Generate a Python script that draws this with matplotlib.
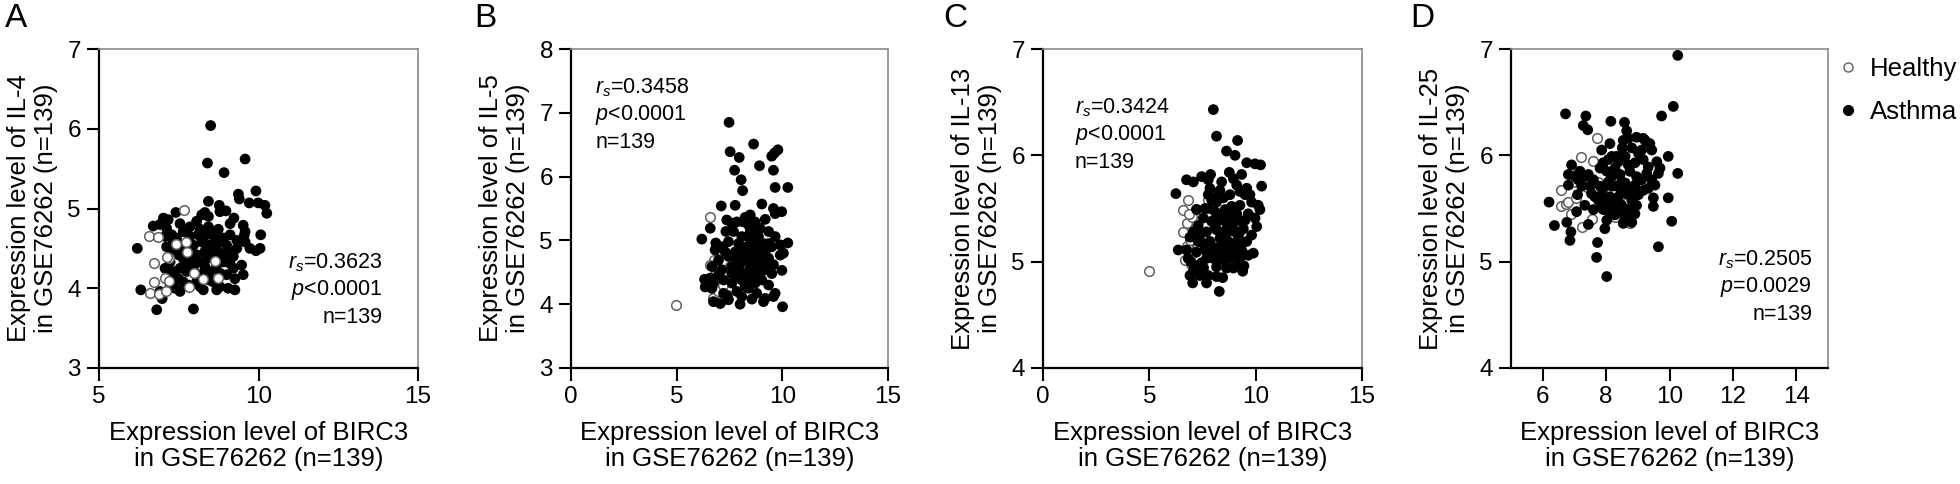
import matplotlib
matplotlib.use('Agg')
import matplotlib.pyplot as plt
from matplotlib.lines import Line2D

plt.rcParams['font.family'] = ['Liberation Sans', 'DejaVu Sans']
plt.rcParams['mathtext.fontset'] = 'custom'
plt.rcParams['mathtext.rm'] = 'Liberation Sans'
plt.rcParams['mathtext.it'] = 'Liberation Sans:italic'

# ---------------- data ----------------
a_asthma_x = [8.50,8.40,9.58,8.92,9.92,9.37,9.40,9.71,9.99,10.20,
              10.26,8.43,8.77,8.98,9.23,8.32,8.22,7.41,7.02,6.70,
              6.91,6.20,7.12,7.28,7.85,8.17,8.43,8.74,9.11,9.52,
              9.55,9.58,10.07,10.05,9.92,9.32,9.21,9.47,9.52,9.00,
              8.79,8.48,8.22,7.96,7.59,7.33,7.12,7.49,7.75,8.06,
              8.37,8.69,8.90,7.54,7.75,7.96,8.27,8.48,7.64,8.06,
              8.48,9.00,9.21,8.79,9.05,9.26,7.38,6.91,6.31,6.98,
              6.81,7.96,8.27,8.69,7.07,7.23,7.33,7.85,8.64,9.11,
              9.32,7.64,8.37,8.79,8.17,7.80,7.23,7.54,8.11,8.43,
              8.79,7.28,7.70,8.32,8.58,8.90,9.05,8.58,8.01,8.32,
              7.23,7.49,9.26,8.06,7.54,7.07,9.73,8.37,8.69,7.80,
              8.58,8.17,9.58,7.64,9.00,7.43,7.17,7.90,9.11]
a_asthma_y = [6.04,5.57,5.62,5.45,5.22,5.18,5.12,5.07,5.07,5.04,
              4.94,5.09,5.04,4.97,4.88,4.95,4.92,4.95,4.88,4.78,
              4.80,4.50,4.75,4.67,4.77,4.74,4.77,4.74,4.81,4.79,
              4.66,4.58,4.67,4.50,4.47,4.50,4.40,4.29,4.17,4.54,
              4.44,4.54,4.58,4.54,4.54,4.58,4.52,4.42,4.37,4.42,
              4.37,4.29,4.33,4.25,4.21,4.25,4.19,4.21,4.08,4.08,
              4.10,4.17,4.25,4.02,4.00,3.98,4.00,3.96,3.98,3.87,
              3.73,3.74,3.98,3.98,4.25,4.33,4.21,4.65,4.63,4.67,
              4.60,4.71,4.67,4.19,4.33,4.04,4.04,3.96,4.67,4.90,
              4.96,4.46,4.50,4.46,4.44,4.63,4.46,4.71,4.33,4.27,
              4.15,4.12,4.12,4.84,4.81,4.65,4.50,4.54,4.54,4.29,
              4.08,4.02,4.71,4.37,4.37,4.63,4.86,4.44,4.31]
a_healthy_x = [7.66,6.57,6.84,6.73,7.20,7.72,7.75,8.64,8.73,7.98,
               8.27,6.73,7.07,7.19,6.60,6.88,7.10,7.82,7.13,7.40]
a_healthy_y = [4.98,4.66,4.64,4.32,4.38,4.58,4.45,4.34,4.13,4.19,
               4.12,4.08,4.13,4.09,3.94,3.93,3.97,4.02,4.39,4.55]

b_asthma_x = [7.48,8.64,7.53,7.96,9.63,9.79,9.50,8.92,7.74,9.58,
              8.05,8.12,9.66,10.26,7.77,7.11,9.03,9.58,9.97,6.19,
              6.59,7.33,7.61,7.85,8.24,8.71,9.19,9.35,9.66,10.26,
              10.05,9.90,9.98,6.85,6.82,7.14,7.45,8.08,8.48,8.87,
              9.11,9.50,6.98,6.67,7.45,7.77,8.32,8.64,8.95,9.35,
              9.58,7.14,7.61,8.00,8.40,8.79,9.19,6.32,6.74,7.22,
              7.77,8.24,8.56,9.03,9.35,9.66,6.67,7.22,7.85,8.40,
              8.79,9.19,6.74,7.06,8.00,8.56,9.11,10.01,8.24,8.48,
              8.08,8.71,8.24,8.48,8.95,8.08,7.61,9.50,8.71,7.37,
              8.08,6.59,8.40,8.95,9.35,8.64,7.93,7.69,8.48,8.16,
              7.30,7.61,6.98,8.40,8.87,9.19,8.00,7.85,8.79,8.32,
              9.19,7.45,9.58,6.35,9.90,7.37,9.66,8.64,7.85]
b_asthma_y = [6.85,6.51,6.39,6.30,6.37,6.42,6.32,6.17,6.10,6.10,
              5.95,5.78,5.83,5.83,5.55,5.54,5.57,5.50,5.45,5.02,
              5.19,5.14,5.27,5.29,5.36,5.29,5.33,5.14,5.06,4.96,
              4.80,4.77,4.53,4.96,4.85,4.90,4.98,5.06,5.14,5.06,
              4.95,4.90,4.69,4.59,4.75,4.82,4.90,4.82,4.75,4.72,
              4.62,4.54,4.59,4.62,4.69,4.59,4.54,4.39,4.34,4.38,
              4.43,4.48,4.41,4.38,4.30,4.17,4.25,4.17,4.20,4.25,
              4.17,4.09,4.04,4.01,4.00,4.08,4.04,3.96,4.28,5.01,
              4.85,4.69,4.69,4.56,4.48,4.38,4.33,4.48,4.33,4.14,
              4.12,4.41,5.24,5.19,4.95,4.95,4.95,5.14,5.40,5.29,
              4.82,4.48,4.46,4.82,4.88,4.82,4.75,4.54,4.48,4.38,
              4.64,4.07,4.12,4.27,4.93,5.32,5.42,5.19,4.69]
b_healthy_x = [6.59,4.98,6.75,6.65,6.70,7.00,7.80,6.90,7.10,6.80,
               7.30,6.95,7.50,7.20,6.85,7.60,6.60,7.40,8.10,7.05]
b_healthy_y = [5.36,3.99,4.70,4.25,4.10,4.55,4.72,4.35,4.05,4.45,
               4.80,4.20,4.60,4.30,4.90,4.40,4.62,4.15,4.75,4.85]

c_asthma_x = [8.01,8.16,9.15,8.63,9.03,9.58,9.97,10.23,10.28,6.75,
              7.07,7.46,7.88,8.76,9.34,8.40,6.25,7.85,7.77,9.11,
              9.50,9.81,10.12,10.20,10.05,9.89,7.22,7.54,7.07,7.30,
              6.36,6.83,7.07,7.46,6.91,7.04,7.77,8.29,8.16,8.48,
              8.79,9.26,9.58,8.09,8.56,8.87,9.26,9.65,7.93,8.32,
              8.79,9.18,9.42,9.81,7.69,8.16,8.63,9.03,7.85,8.32,
              8.71,9.26,9.58,7.62,8.09,8.48,8.95,9.34,8.01,8.40,
              8.79,9.26,9.65,7.54,8.16,8.63,9.18,9.39,7.69,7.38,
              6.75,7.38,7.62,8.32,8.95,9.97,9.73,6.91,7.30,7.77,
              7.93,8.56,8.40,9.03,7.93,7.22,7.69,8.71,9.11,9.50,
              8.16,7.07,8.95,8.56,8.24,8.71,9.11,8.09,8.95,8.48,
              9.26,7.54,8.16,8.63,7.77,8.24,9.45,6.95,8.45]
c_asthma_y = [6.43,6.18,6.14,6.04,6.00,5.93,5.92,5.91,5.71,5.77,
              5.75,5.80,5.82,5.84,5.82,5.75,5.64,5.69,5.63,5.72,
              5.63,5.56,5.53,5.49,5.33,5.08,5.49,5.41,5.28,5.19,
              5.11,5.03,4.97,4.99,4.87,4.80,4.87,4.72,5.56,5.60,
              5.63,5.66,5.69,5.47,5.49,5.52,5.53,5.45,5.38,5.39,
              5.41,5.39,5.31,5.25,5.28,5.30,5.31,5.28,5.19,5.22,
              5.19,5.20,5.19,5.11,5.13,5.09,5.13,5.11,5.03,5.02,
              5.03,5.03,5.06,4.94,4.95,4.94,4.97,4.91,4.80,4.87,
              5.11,5.25,5.50,5.67,5.78,5.41,5.63,5.23,5.34,5.50,
              5.58,5.39,5.16,5.06,5.09,5.09,5.03,5.28,5.19,5.39,
              4.86,4.91,4.94,5.02,5.44,5.45,5.45,5.33,5.36,5.25,
              5.28,5.17,5.06,5.11,5.77,5.63,4.96,5.00,4.85]
c_healthy_x = [5.00,6.83,6.60,6.76,6.60,7.77,7.07,6.76,7.38,8.24,
               7.20,6.90,7.00,6.70,7.50,6.95,7.15,8.00,7.30,6.85]
c_healthy_y = [4.91,5.58,5.49,5.36,5.28,5.58,5.08,5.15,4.89,5.13,
               5.50,5.20,5.42,5.02,4.95,4.98,5.30,5.05,5.15,5.45]

d_asthma_x = [10.26,10.12,9.75,6.72,7.36,7.28,7.42,8.15,8.58,8.65,
              8.70,8.96,9.17,9.38,9.44,9.96,10.26,8.12,7.86,8.51,
              8.81,9.02,8.18,8.60,9.17,9.60,9.70,9.65,6.91,7.18,
              7.02,6.81,7.44,7.60,7.91,8.02,8.28,8.44,8.75,8.96,
              9.28,9.44,9.54,9.33,8.91,8.60,8.33,8.07,7.81,7.49,
              7.10,6.20,7.86,8.12,8.39,8.70,9.02,9.49,9.96,7.33,
              7.07,7.60,7.91,8.18,8.49,8.75,8.96,9.49,8.28,8.60,
              8.54,8.81,8.02,7.44,10.07,6.37,6.76,6.89,6.86,7.96,
              7.73,7.70,8.02,9.65,8.18,8.49,8.81,9.12,8.39,8.07,
              8.70,8.91,9.12,7.75,7.23,7.33,6.81,7.65,8.28,8.60,
              8.91,9.17,8.18,8.49,8.70,7.91,8.02,8.44,9.33,8.54,
              9.23,7.12,7.54,7.86,8.75,8.12,9.02,8.33,7.81]
d_asthma_y = [6.94,6.46,6.37,6.39,6.37,6.28,6.24,6.32,6.31,6.23,
              6.16,6.17,6.16,6.11,6.05,5.99,5.83,6.11,6.05,6.07,
              6.07,6.02,5.99,5.99,5.96,5.94,5.88,5.83,5.91,5.85,
              5.80,5.72,5.82,5.77,5.93,5.85,5.88,5.82,5.85,5.80,
              5.83,5.77,5.72,5.69,5.72,5.74,5.71,5.75,5.71,5.71,
              5.63,5.56,5.63,5.61,5.61,5.63,5.63,5.60,5.60,5.53,
              5.47,5.49,5.49,5.52,5.53,5.50,5.53,5.52,5.44,5.41,
              5.36,5.37,5.39,5.35,5.38,5.34,5.37,5.28,5.20,5.31,
              5.18,5.04,4.86,5.14,5.71,5.66,5.58,5.77,5.94,5.96,
              5.91,5.93,6.05,5.58,5.71,5.80,5.82,5.61,5.53,5.49,
              5.45,5.67,5.80,5.75,5.67,5.69,5.55,5.47,5.89,6.14,
              6.14,5.77,5.64,5.52,5.42,5.45,5.66,5.99,5.88]
d_healthy_x = [7.70,7.21,6.58,6.58,6.72,6.81,7.23,7.75,8.28,8.75,
               7.80,7.05,6.90,7.40,8.05,7.55,6.95,8.40,7.10,7.60]
d_healthy_y = [6.16,5.98,5.67,5.52,5.54,5.56,5.33,5.75,5.42,5.36,
               5.90,5.60,5.45,5.70,5.55,5.40,5.75,5.60,5.85,5.95]

panel_letters = ['A', 'B', 'C', 'D']
y_genes = ['IL-4', 'IL-5', 'IL-13', 'IL-25']
x_limits = [(5, 15), (0, 15), (0, 15), (5, 15)]
x_ticks = [[5, 10, 15], [0, 5, 10, 15], [0, 5, 10, 15], [6, 8, 10, 12, 14]]
y_limits = [(3, 7), (3, 8), (4, 7), (4, 7)]
y_ticks = [[3, 4, 5, 6, 7], [3, 4, 5, 6, 7, 8], [4, 5, 6, 7], [4, 5, 6, 7]]
rs_values = ['0.3623', '0.3458', '0.3424', '0.2505']
p_texts = ['<0.0001', '<0.0001', '<0.0001', '=0.0029']
n_text = 'n=139'

asthma_sets = [(a_asthma_x, a_asthma_y), (b_asthma_x, b_asthma_y),
               (c_asthma_x, c_asthma_y), (d_asthma_x, d_asthma_y)]
healthy_sets = [(a_healthy_x, a_healthy_y), (b_healthy_x, b_healthy_y),
                (c_healthy_x, c_healthy_y), (d_healthy_x, d_healthy_y)]

# ---------------- layout ----------------
W, H = 1960, 484
fig = plt.figure(figsize=(W / 100, H / 100), dpi=100)

ax_left_px = [99, 571, 1043, 1511]
ax_right_px = [418, 888, 1362, 1828]
ax_top_px, ax_bot_px = 49, 368
letter_px = [5, 474, 943, 1410]
# annotation placement (axes fraction), alignment
ann_x = [0.89, 0.076, 0.10, 0.95]
ann_y0 = [0.329, 0.878, 0.815, 0.339]
ann_ha = ['right', 'left', 'left', 'right']
healthy_on_top = [True, False, False, False]

for i in range(4):
    l = ax_left_px[i] / W
    w = (ax_right_px[i] - ax_left_px[i]) / W
    b = (H - ax_bot_px) / H
    h = (ax_bot_px - ax_top_px) / H
    ax = fig.add_axes([l, b, w, h])
    ax.set_xlim(*x_limits[i])
    ax.set_ylim(*y_limits[i])
    ax.set_xticks(x_ticks[i])
    ax.set_yticks(y_ticks[i])

    hx, hy = healthy_sets[i]
    axx, axy = asthma_sets[i]
    zh = 3 if healthy_on_top[i] else 1
    ax.scatter(axx, axy, s=60, c='black', edgecolors='none', zorder=2,
               clip_on=False)
    ax.scatter(hx, hy, s=48, facecolors='white', edgecolors='#606060',
               linewidths=1.1, zorder=zh, clip_on=False)

    for side in ['left', 'bottom']:
        ax.spines[side].set_color('black')
        ax.spines[side].set_linewidth(1.6)
    for side in ['top', 'right']:
        ax.spines[side].set_color('#8a8a8a')
        ax.spines[side].set_linewidth(1.2)
    ax.tick_params(direction='out', length=9, width=1.5, labelsize=17.5,
                   pad=4, colors='black')

    ax.set_xlabel('Expression level of BIRC3\nin GSE76262 (n=139)',
                  fontsize=18.5, labelpad=9, linespacing=1.12)
    ax.set_ylabel('Expression level of %s\nin GSE76262 (n=139)' % y_genes[i],
                  fontsize=18.5, labelpad=7, linespacing=1.12)

    lines = [r'$r_s$=' + rs_values[i], r'$p$' + p_texts[i], n_text]
    for k, t in enumerate(lines):
        ax.text(ann_x[i], ann_y0[i] - k * 0.086, t, transform=ax.transAxes,
                ha=ann_ha[i], va='center', fontsize=15.5)

    fig.text(letter_px[i] / W, 1 - 3 / H, panel_letters[i], fontsize=24,
             ha='left', va='top')

handles = [Line2D([], [], marker='o', linestyle='none', markersize=6.5,
                  markerfacecolor='white', markeredgecolor='#606060',
                  markeredgewidth=1.0),
           Line2D([], [], marker='o', linestyle='none', markersize=7,
                  markerfacecolor='black', markeredgecolor='black')]
fig.legend(handles, ['Healthy', 'Asthma'], loc='upper left',
           bbox_to_anchor=(1838 / W, 1 - 57 / H), frameon=False,
           fontsize=18.5, handlelength=0.8, handletextpad=0.45,
           labelspacing=0.75, borderpad=0, borderaxespad=0)

fig.savefig('out.png', dpi=100)
